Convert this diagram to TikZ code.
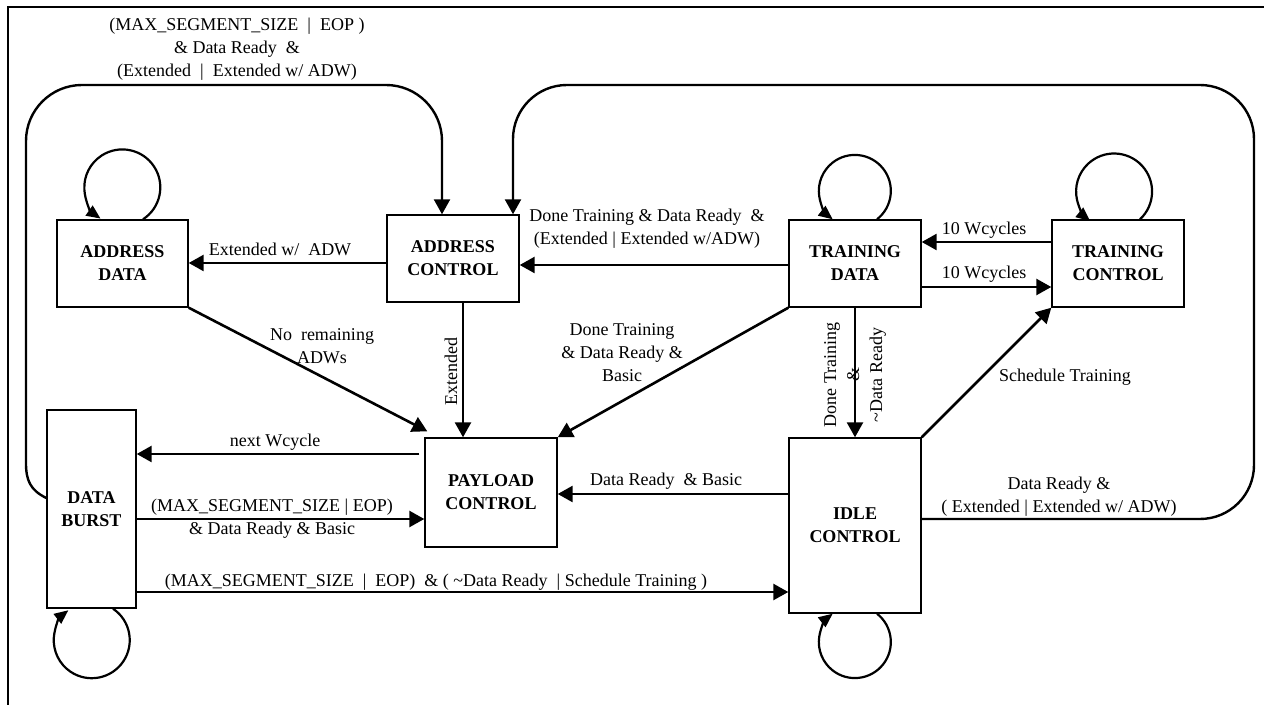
\documentclass[tikz,border=0pt]{standalone}
\usepackage{fontspec}
\setmainfont{Liberation Serif}
\usetikzlibrary{arrows.meta}

\begin{document}
\begin{tikzpicture}[x=0.5pt,y=-0.5pt,
  state/.style={draw, line width=0.7pt, align=center, inner sep=0pt,
    font=\fontsize{9}{11.5}\selectfont\bfseries},
  arr/.style={line width=1.3pt, -{Triangle[length=7.5pt,width=8pt]}},
  bigarr/.style={line width=1.2pt, -{Triangle[length=7.5pt,width=8pt]}},
  selfloop/.style={line width=1.1pt, -{Triangle[length=7pt,width=6pt]}},
  lbl/.style={align=center, inner sep=0pt, font=\fontsize{9}{11.5}\selectfont},
  ]
\useasboundingbox (0,0) rectangle (1264,705);

% outer frame (top and left edges)
\draw[line width=0.6pt] (1264,7) -- (8,7) -- (8,705);

% states
\node[state, minimum width=65.5pt, minimum height=43.5pt] (AD) at (122.5,263.5) {ADDRESS\\DATA};
\node[state, minimum width=66pt, minimum height=43.5pt] (AC) at (453,258.5) {ADDRESS\\CONTROL};
\node[state, minimum width=66pt, minimum height=43.5pt] (TD) at (855,263.5) {TRAINING\\DATA};
\node[state, minimum width=66pt, minimum height=43.5pt] (TC) at (1118,263.5) {TRAINING\\CONTROL};
\node[state, minimum width=44.5pt, minimum height=99pt] (DB) at (91.5,509) {DATA\\BURST};
\node[state, minimum width=66pt, minimum height=54.5pt] (PC) at (491,492.5) {PAYLOAD\\CONTROL};
\node[state, minimum width=66pt, minimum height=87.5pt] (IC) at (855,525.5) {IDLE\\CONTROL};

% self loops
\draw[selfloop] ([xshift=10.25pt]AD.north) arc[start angle=-57, end angle=235, radius=19pt];
\draw[selfloop] ([xshift=11pt]TD.north) arc[start angle=-52, end angle=232, radius=18pt];
\draw[selfloop] ([xshift=11pt]TC.north) arc[start angle=-47, end angle=231, radius=19pt];
\draw[selfloop] ([xshift=10.75pt]DB.south) arc[start angle=56, end angle=-232, radius=19pt];
\draw[selfloop] ([xshift=11pt]IC.south) arc[start angle=52, end angle=-232, radius=18pt];

% long return paths into ADDRESS CONTROL
\draw[bigarr] ([yshift=5.5pt]DB.west) .. controls (30,490) and (26,480) .. (26,463)
  [rounded corners=28pt] -- (26,85) -- (442,85) -- ([xshift=-5.5pt]AC.north);
\draw[bigarr, rounded corners=27pt] ([yshift=3.25pt]IC.east) -- (1254,519) -- (1254,85)
  -- (513,85) -- ([xshift=30pt]AC.north);

% transitions
\draw[arr] (AC.west |- 0,263) -- (AD.east |- 0,263);
\draw[arr] (TD.west |- 0,265) -- (AC.east |- 0,265);
\draw[arr] (TC.west |- 0,242) -- (TD.east |- 0,242);
\draw[arr] (TD.east |- 0,287) -- (TC.west |- 0,287);
\draw[arr] (AD.south east) -- ([shift={(1.5pt,3pt)}]PC.north west);
\draw[arr] (AC.south -| 463,0) -- (PC.north -| 463,0);
\draw[arr] (TD.south west) -- (PC.north east);
\draw[arr] (TD.south) -- (IC.north);
\draw[arr] (IC.north east) -- (TC.south west);
\draw[arr, shorten <=2.5pt] (PC.west |- 0,454) -- (DB.east |- 0,454);
\draw[arr] (DB.east |- 0,519) -- (PC.west |- 0,519);
\draw[arr] (IC.west |- 0,494) -- (PC.east |- 0,494);
\draw[arr] (DB.east |- 0,592) -- (IC.west |- 0,592);

% transition labels (base = baseline of the last line)
\node[lbl, anchor=base] (l1) at (237,77) {(MAX\_SEGMENT\_SIZE \ | \ EOP )\\\& Data Ready \ \&\\(Extended \ | \ Extended w/ ADW)};
\node[lbl, anchor=base] (l2) at (280,256) {Extended w/ \ ADW};
\node[lbl, anchor=base] (l3) at (647,245) {Done Training \& Data Ready \ \&\\(Extended | Extended w/ADW)};
\node[lbl, anchor=base] (l4) at (984,235) {10 Wcycles};
\node[lbl, anchor=base] (l5) at (984,279) {10 Wcycles};
\node[lbl, anchor=base] (l6) at (322,364) {No \ remaining\\ADWs};
\node[lbl, rotate=90] (l7) at (451,372) {Extended};
\node[lbl, rotate=90] (l8) at (855,375) {Done Training\\\&\\\textasciitilde Data Ready};
\node[lbl, anchor=base] (l9) at (622,382) {Done Training\\\& Data Ready \&\\Basic};
\node[lbl, anchor=base] (l10) at (1065,382) {Schedule Training};
\node[lbl, anchor=base] (l11) at (275,447) {next Wcycle};
\node[lbl, anchor=base] (l12) at (272,535) {(MAX\_SEGMENT\_SIZE | EOP)\\\& Data Ready \& Basic};
\node[lbl, anchor=base] (l13) at (666,486) {Data Ready \ \& Basic};
\node[lbl, anchor=base] (l14) at (436,587) {(MAX\_SEGMENT\_SIZE \ | \ EOP) \ \& ( \textasciitilde Data Ready \ | Schedule Training )};
\node[lbl, anchor=base] (l15) at (1059,513) {Data Ready \&\\( Extended | Extended w/ ADW)};
\end{tikzpicture}
\end{document}
